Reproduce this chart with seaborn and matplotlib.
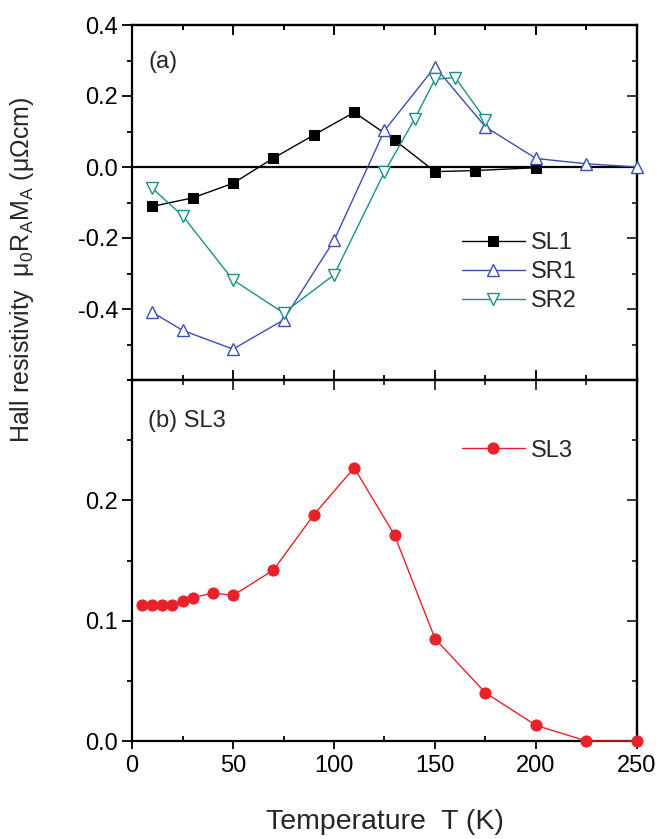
import numpy as np
import pandas as pd
import matplotlib
matplotlib.use("Agg")
import matplotlib.pyplot as plt
import seaborn as sns
from matplotlib.ticker import MultipleLocator

sns.set_theme(style="ticks")
plt.rcParams['font.family'] = ['Liberation Sans', 'DejaVu Sans']
plt.rcParams['mathtext.fontset'] = 'custom'
plt.rcParams['mathtext.rm'] = 'Liberation Sans'
plt.rcParams['mathtext.it'] = 'Liberation Sans'
plt.rcParams['mathtext.default'] = 'regular'

# ---- data ----
sl1_T = [10, 30, 50, 70, 90, 110, 130, 150, 170, 200]
sl1_v = [-0.111, -0.087, -0.046, 0.025, 0.090, 0.154, 0.076, -0.013, -0.010, -0.002]

sr1_T = [10, 25, 50, 75, 100, 125, 150, 175, 200, 225, 250]
sr1_v = [-0.409, -0.460, -0.513, -0.431, -0.207, 0.103, 0.282, 0.113, 0.024, 0.009, 0.0]

sr2_T = [10, 25, 50, 75, 100, 125, 140, 150, 160, 175]
sr2_v = [-0.060, -0.137, -0.318, -0.411, -0.304, -0.014, 0.136, 0.247, 0.252, 0.133]

sl3_T = [5, 10, 15, 20, 25, 30, 40, 50, 70, 90, 110, 130, 150, 175, 200, 225, 250]
sl3_v = [0.113, 0.113, 0.113, 0.113, 0.116, 0.119, 0.123, 0.121, 0.142, 0.188,
         0.227, 0.171, 0.085, 0.040, 0.013, 0.0, 0.0]

x_ticks = [0, 50, 100, 150, 200, 250]
top_yticks = [-0.4, -0.2, 0.0, 0.2, 0.4]
bot_yticks = [0.0, 0.1, 0.2]

c_sl1 = "#000000"
c_sr1 = "#3b4fb3"
c_sr2 = "#1b9184"
c_sl3 = "#e8212b"

TICK_FS = 17
LEG_FS = 17

fig = plt.figure(figsize=(6.61, 8.39), dpi=100)
L, R = 132 / 661, 637 / 661
H = 839
ax1 = fig.add_axes([L, 1 - 380 / H, R - L, (380 - 25) / H])
ax2 = fig.add_axes([L, 1 - 741 / H, R - L, (741 - 380) / H])

df1 = pd.DataFrame({"T": sl1_T, "v": sl1_v})
df2 = pd.DataFrame({"T": sr1_T, "v": sr1_v})
df3 = pd.DataFrame({"T": sr2_T, "v": sr2_v})
df4 = pd.DataFrame({"T": sl3_T, "v": sl3_v})

ax1.axhline(0, color="black", lw=1.6, zorder=1)
sns.lineplot(data=df1, x="T", y="v", ax=ax1, sort=False, color=c_sl1, lw=1.0,
             marker="s", markersize=7, markerfacecolor=c_sl1, markeredgecolor=c_sl1,
             label="SL1", zorder=3)
sns.lineplot(data=df2, x="T", y="v", ax=ax1, sort=False, color=c_sr1, lw=1.0,
             marker="^", markersize=9, markerfacecolor="white", markeredgecolor=c_sr1,
             markeredgewidth=1.0, label="SR1", zorder=3, clip_on=False)
sns.lineplot(data=df3, x="T", y="v", ax=ax1, sort=False, color=c_sr2, lw=1.0,
             marker="v", markersize=9, markerfacecolor="white", markeredgecolor=c_sr2,
             markeredgewidth=1.0, label="SR2", zorder=3)

sns.lineplot(data=df4, x="T", y="v", ax=ax2, sort=False, color=c_sl3, lw=1.0,
             marker="o", markersize=8, markerfacecolor=c_sl3, markeredgecolor=c_sl3,
             label="SL3", zorder=3, clip_on=False)

for ax in (ax1, ax2):
    ax.set_xlim(0, 250)
    ax.set_xticks(x_ticks)
    ax.xaxis.set_minor_locator(MultipleLocator(25))
    ax.set_xlabel("")
    ax.set_ylabel("")
    for s in ax.spines.values():
        s.set_linewidth(1.6)
        s.set_color("black")
    ax.tick_params(which="both", width=1.3, labelsize=TICK_FS, colors="black")
    ax.tick_params(which="major", length=7)
    ax.tick_params(which="minor", length=3.5)
    ax.tick_params(axis="y", which="both", direction="out", left=True, right=False,
                   pad=3)
    ax.set_facecolor("white")

ax1.set_ylim(-0.6, 0.4)
ax1.set_yticks(top_yticks)
ax1.set_yticklabels(["-0.4", "-0.2", "0.0", "0.2", "0.4"], fontsize=TICK_FS)
ax1.yaxis.set_minor_locator(MultipleLocator(0.1))
ax1.tick_params(axis="x", which="both", direction="in", bottom=True, top=True,
                labelbottom=False)

ax2.set_ylim(0, 0.3)
ax2.set_yticks(bot_yticks)
ax2.set_yticklabels(["0.0", "0.1", "0.2"], fontsize=TICK_FS)
ax2.yaxis.set_minor_locator(MultipleLocator(0.05))
ax2.tick_params(axis="x", which="major", direction="out", bottom=True, top=False,
                length=6, pad=4)
ax2.tick_params(axis="x", which="minor", direction="in", bottom=True, top=False)
ax2.set_xticklabels([str(t) for t in x_ticks], fontsize=TICK_FS)

# inward ticks on top and right of each panel
for ax in (ax1, ax2):
    tx = ax.secondary_xaxis("top")
    tx.set_xticks(x_ticks)
    tx.xaxis.set_minor_locator(MultipleLocator(25))
    tx.tick_params(which="both", direction="in", width=1.3, labeltop=False)
    tx.tick_params(which="major", length=7)
    tx.tick_params(which="minor", length=3.5)
    ty = ax.secondary_yaxis("right")
    ty.set_yticks(top_yticks if ax is ax1 else bot_yticks)
    ty.yaxis.set_minor_locator(MultipleLocator(0.1 if ax is ax1 else 0.05))
    ty.tick_params(which="both", direction="in", width=1.3, labelright=False)
    ty.tick_params(which="major", length=7)
    ty.tick_params(which="minor", length=3.5)
    for s in list(tx.spines.values()) + list(ty.spines.values()):
        s.set_linewidth(1.6)

ax1.legend(loc="upper left", bbox_to_anchor=(0.653, 0.417), frameon=False,
           fontsize=LEG_FS, handlelength=2.67, handletextpad=0.25, labelspacing=0.3,
           borderaxespad=0, borderpad=0)
ax2.legend(loc="upper left", bbox_to_anchor=(0.653, 0.835), frameon=False,
           fontsize=LEG_FS, handlelength=2.67, handletextpad=0.25,
           borderaxespad=0, borderpad=0)

ax1.text(0.032, 0.896, "(a)", transform=ax1.transAxes, fontsize=17, va="center")
ax2.text(0.032, 0.886, "(b) SL3", transform=ax2.transAxes, fontsize=17, va="center")

fig.text(384.5 / 661, 1 - 822 / H, "Temperature  T (K)", ha="center", va="center",
         fontsize=20.5)
fig.text(22 / 661, 1 - 270 / H,
         r"Hall resistivity  $\mu_0R_AM_A$ (μΩcm)",
         rotation=90, ha="center", va="center", fontsize=18)

fig.savefig("out.png", dpi=100, facecolor="white")
